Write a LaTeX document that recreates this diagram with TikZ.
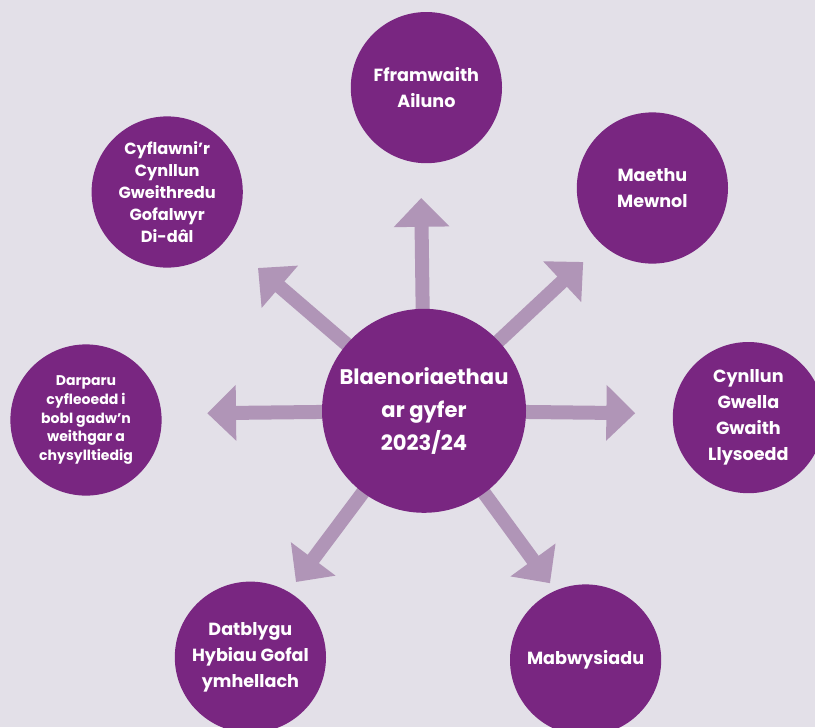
\documentclass[tikz,border=0pt]{standalone}
\usepackage{fontspec}
\setmainfont{Poppins}
\usetikzlibrary{arrows.meta}
\usetikzlibrary{backgrounds}

\definecolor{plum}{RGB}{121,38,129}
\definecolor{mauve}{RGB}{176,149,183}
\definecolor{paper}{RGB}{227,224,232}

\begin{document}
\begin{tikzpicture}[
    goal/.style={circle, fill=plum, text=white, minimum size=3.78cm, inner sep=0pt,
                 align=center, font=\bfseries\fontsize{12.5}{18.5}\selectfont},
    hubnode/.style={goal, minimum size=5.1cm, font=\bfseries\fontsize{15}{23.5}\selectfont},
    spoke/.style={mauve, line width=0.35cm, -{Triangle[length=0.72cm, width=1.35cm]}}
]
\useasboundingbox (0,0) rectangle (20.375,-18.175);
\clip (0,0) rectangle (20.375,-18.175);

% --- CENTRE ---
\node[hubnode] (hub) at (10.6,-10.27) {Blaenoriaethau\\ar gyfer\\2023/24};

% --- PRIORITIES ROUND THE CENTRE ---
\node[goal] (fram) at (10.66,-2.19) {Fframwaith\\Ailuno};
\node[goal] (maethu) at (16.31,-4.7) {Maethu\\Mewnol};
\node[goal] (cynllun) at (18.71,-10.44) {Cynllun\\Gwella\\Gwaith\\Llysoedd};
\node[goal] (mabw) at (14.64,-16.5) {Mabwysiadu};
\node[goal] (datblygu) at (6.26,-16.43) {Datblygu\\Hybiau Gofal\\ymhellach};
\node[goal, font=\bfseries\fontsize{10}{13.5}\selectfont]
    (darparu) at (2.15,-10.5)
    {Darparu\\cyfleoedd i\\bobl gadw’n\\weithgar a\\chysylltiedig};
\node[goal, font=\bfseries\fontsize{11.5}{15.6}\selectfont]
    (cyflawni) at (4.18,-4.8)
    {Cyflawni’r\\Cynllun\\Gweithredu\\Gofalwyr\\Di-dâl};

% arrow ends
\coordinate (tipN)  at (10.53,-4.95);
\coordinate (tipNE) at (14.58,-6.55);
\coordinate (tipE)  at (15.88,-10.33);
\coordinate (tipSE) at (13.75,-14.58);
\coordinate (tipSW) at (7.40,-14.55);
\coordinate (tipW)  at (5.18,-10.33);
\coordinate (tipNW) at (6.45,-6.70);

% --- SPOKES (behind the circles) ---
\begin{scope}[on background layer]
    \fill[paper] (0,0) rectangle (20.375,-18.175);
    \foreach \tip in {tipN,tipNE,tipE,tipSE,tipSW,tipW,tipNW}
        \draw[spoke] (hub.center) -- (\tip);
\end{scope}

\end{tikzpicture}
\end{document}
